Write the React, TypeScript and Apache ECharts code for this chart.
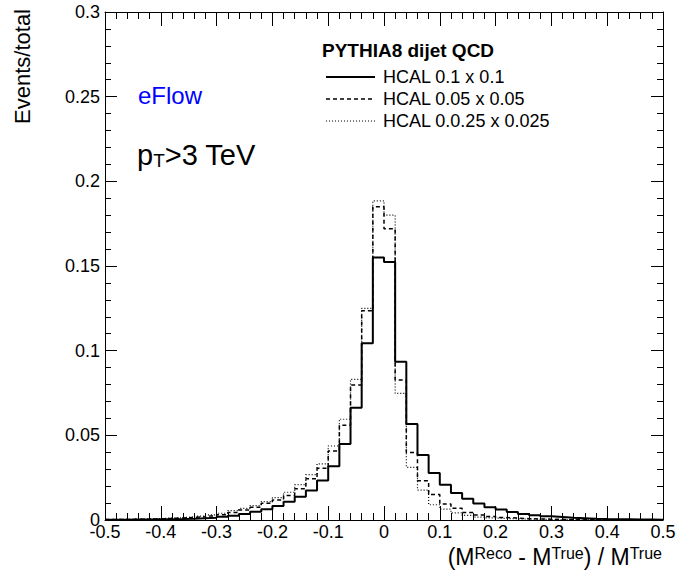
import React, { useEffect, useRef } from "react";
import * as echarts from "echarts";

const BIN_MIN = -0.5;
const BIN_WIDTH = 0.02;

// HCAL 0.1 x 0.1 (solid)
const hcal01 = [
  0.0002, 0.0002, 0.0003, 0.0003, 0.0004, 0.0005, 0.0006, 0.0008, 0.0011, 0.0014,
  0.0019, 0.0025, 0.0035, 0.0049, 0.0063, 0.0083, 0.0108, 0.0138, 0.0174, 0.0233,
  0.0317, 0.0449, 0.0663, 0.1044, 0.155, 0.1524, 0.0935, 0.0567, 0.0384, 0.0278,
  0.0208, 0.016, 0.0126, 0.0098, 0.0076, 0.0062, 0.0047, 0.0035, 0.0028, 0.0022,
  0.0018, 0.0014, 0.0011, 0.0008, 0.0006, 0.0005, 0.0004, 0.0003, 0.0003, 0.0002,
];

// HCAL 0.05 x 0.05 (dashed)
const hcal005 = [
  0.0003, 0.0003, 0.0004, 0.0005, 0.0007, 0.0009, 0.0012, 0.0015, 0.0019, 0.0024,
  0.0031, 0.0045, 0.0059, 0.0075, 0.0099, 0.0118, 0.0145, 0.0185, 0.0243, 0.0305,
  0.0408, 0.056, 0.0797, 0.1236, 0.185, 0.172, 0.0827, 0.0398, 0.0232, 0.015,
  0.0095, 0.007, 0.0045, 0.003, 0.0021, 0.0015, 0.0011, 0.0008, 0.0006, 0.0005,
  0.0004, 0.0003, 0.0003, 0.0002, 0.0002, 0.0002, 0.0001, 0.0001, 0.0001, 0.0001,
];

// HCAL 0.0.25 x 0.025 (dotted)
const hcal0025 = [
  0.0003, 0.0004, 0.0005, 0.0006, 0.0008, 0.0011, 0.0014, 0.0018, 0.0023, 0.003,
  0.004, 0.0055, 0.0069, 0.0085, 0.0108, 0.0132, 0.0164, 0.0209, 0.0268, 0.0332,
  0.0437, 0.0595, 0.0831, 0.125, 0.1885, 0.18, 0.0748, 0.0311, 0.0177, 0.009,
  0.0064, 0.0042, 0.0027, 0.0017, 0.0012, 0.0009, 0.0007, 0.0005, 0.0004, 0.0003,
  0.0003, 0.0002, 0.0002, 0.0002, 0.0001, 0.0001, 0.0001, 0.0001, 0.0001, 0.0001,
];

const seriesNames = ["HCAL 0.1 x 0.1", "HCAL 0.05 x 0.05", "HCAL 0.0.25 x 0.025"];
const legendTitle = "PYTHIA8 dijet QCD";

const FONT = '"Liberation Sans", Arial, Helvetica, sans-serif';

function toSteps(vals: number[]): number[][] {
  const pts = vals.map((v, i) => [+(BIN_MIN + i * BIN_WIDTH).toFixed(4), v]);
  pts.push([+(BIN_MIN + vals.length * BIN_WIDTH).toFixed(4), vals[vals.length - 1]]);
  return pts;
}

export default function App() {
  const ref = useRef<HTMLDivElement>(null);
  useEffect(() => {
    if (!ref.current) return;
    const chart = echarts.init(ref.current, undefined, { renderer: "svg" });
    const axisLine = { show: true, onZero: false, lineStyle: { color: "#000", width: 1 } };
    const xCommon = {
      type: "value",
      min: -0.5,
      max: 0.5,
      interval: 0.1,
      axisLine,
      splitLine: { show: false },
      axisTick: { show: true, inside: true, length: 14, lineStyle: { color: "#000", width: 1 } },
      minorTick: { show: true, splitNumber: 5, length: 7, lineStyle: { color: "#000", width: 1 } },
      minorSplitLine: { show: false },
    };
    const yCommon = {
      type: "value",
      min: 0,
      max: 0.3,
      interval: 0.05,
      axisLine,
      splitLine: { show: false },
      axisTick: { show: true, inside: true, length: 12, lineStyle: { color: "#000", width: 1 } },
      minorTick: { show: true, splitNumber: 5, length: 6, lineStyle: { color: "#000", width: 1 } },
      minorSplitLine: { show: false },
    };
    const lineStyles = [
      { color: "#000", width: 2, type: "solid" },
      { color: "#000", width: 1.5, type: [4, 3] },
      { color: "#000", width: 1.2, type: [1, 2] },
    ];
    const datasets = [hcal01, hcal005, hcal0025];
    const legendRows = [77, 99, 121];

    chart.setOption({
      animation: false,
      backgroundColor: "#fff",
      grid: { left: 105, right: 14, top: 12, bottom: 54, containLabel: false, outerBoundsMode: "none" },
      xAxis: [
        {
          ...xCommon,
          position: "bottom",
          axisLabel: { show: true, color: "#000", fontSize: 18, fontFamily: FONT, margin: 3 },
        },
        {
          ...xCommon,
          position: "top",
          axisLabel: { show: false },
        },
      ],
      yAxis: [
        {
          ...yCommon,
          position: "left",
          axisLabel: { show: true, color: "#000", fontSize: 18, fontFamily: FONT, margin: 5 },
        },
        {
          ...yCommon,
          position: "right",
          axisLabel: { show: false },
        },
      ],
      series: datasets.map((d, k) => ({
        name: seriesNames[k],
        type: "line",
        step: "end",
        xAxisIndex: 0,
        yAxisIndex: 0,
        showSymbol: false,
        symbol: "none",
        data: toSteps(d),
        lineStyle: lineStyles[k],
        z: 3 - k,
      })),
      graphic: [
        {
          type: "text",
          x: 22,
          y: 9,
          rotation: Math.PI / 2,
          style: {
            text: "Events/total",
            fill: "#000",
            font: `22px ${FONT}`,
            align: "right",
            verticalAlign: "middle",
          },
        },
        {
          type: "text",
          x: 662,
          y: 557,
          style: {
            text: "{a|(M}{s|Reco}{a| - M}{s|True}{a|) / M}{s|True}",
            align: "right",
            verticalAlign: "middle",
            rich: {
              a: { fontSize: 23, fontFamily: FONT, fill: "#000", lineHeight: 23, padding: [6, 0, 0, 0], verticalAlign: "bottom" },
              s: { fontSize: 16, fontFamily: FONT, fill: "#000", lineHeight: 16, verticalAlign: "top" },
            },
          },
        },
        {
          type: "text",
          x: 138,
          y: 95,
          style: { text: "eFlow", fill: "#0000ff", font: `24px ${FONT}`, verticalAlign: "middle" },
        },
        {
          type: "text",
          x: 137,
          y: 155,
          style: {
            text: "{a|p}{s|T}{a|>3 TeV}",
            verticalAlign: "middle",
            rich: {
              a: { fontSize: 29, fontFamily: FONT, fill: "#000", lineHeight: 29, padding: [0, 0, 6, 0], verticalAlign: "top" },
              s: { fontSize: 19, fontFamily: FONT, fill: "#000", lineHeight: 19, verticalAlign: "bottom" },
            },
          },
        },
        {
          type: "text",
          x: 322,
          y: 50,
          style: { text: legendTitle, fill: "#000", font: `bold 19px ${FONT}`, verticalAlign: "middle" },
        },
        ...legendRows.flatMap((yy, k) => [
          {
            type: "line",
            shape: { x1: 326, y1: yy, x2: 375, y2: yy },
            style: {
              stroke: "#000",
              lineWidth: lineStyles[k].width,
              lineDash: Array.isArray(lineStyles[k].type) ? (lineStyles[k].type as number[]) : null,
            },
          },
          {
            type: "text",
            x: 383,
            y: yy,
            style: { text: seriesNames[k], fill: "#000", font: `18px ${FONT}`, verticalAlign: "middle" },
          },
        ]),
      ],
    });
    return () => chart.dispose();
  }, []);
  return (
    <div
      ref={ref}
      style={{ position: "fixed", left: 0, top: 0, width: 677, height: 574, background: "#fff" }}
    />
  );
}
